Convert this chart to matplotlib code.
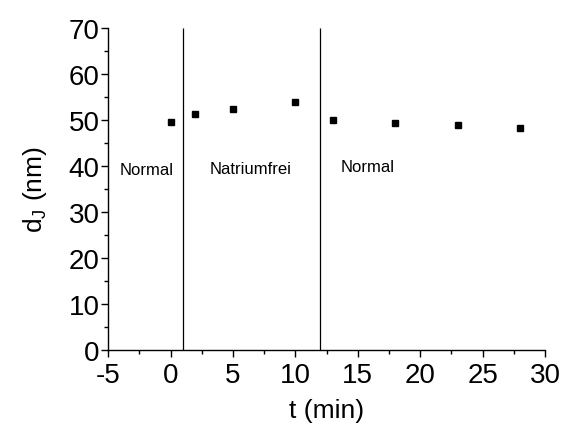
import matplotlib
matplotlib.use("Agg")
import matplotlib.pyplot as plt
from matplotlib.ticker import MultipleLocator

plt.rcParams.update({
    "font.family": ["Liberation Sans", "DejaVu Sans"],
    "mathtext.fontset": "custom",
    "mathtext.rm": "Liberation Sans",
    "mathtext.it": "Liberation Sans",
    "axes.unicode_minus": False,
})

# data
t_min = [0, 2, 5, 10, 13, 18, 23, 28]
d_j = [49.6, 51.4, 52.4, 53.9, 49.9, 49.3, 49.0, 48.3]
switch_times = [1, 12]
phase_labels = ["Normal", "Natriumfrei", "Normal"]
phase_x = [-1.9, 6.4, 15.8]
phase_y = [39.2, 39.5, 40.0]

fig = plt.figure(figsize=(5.63, 4.27), dpi=100)
ax = fig.add_axes([0.192, 0.178, 0.776, 0.754])

ax.plot(t_min, d_j, "s", color="black", markersize=5)
ax.vlines(switch_times, 0, 70, color="black", linewidth=0.9)
for lab, x, y in zip(phase_labels, phase_x, phase_y):
    ax.text(x, y, lab, ha="center", va="center", fontsize=12)

ax.set_xlim(-5, 30)
ax.set_ylim(0, 70)
ax.xaxis.set_major_locator(MultipleLocator(5))
ax.xaxis.set_minor_locator(MultipleLocator(2.5))
ax.yaxis.set_major_locator(MultipleLocator(10))
ax.yaxis.set_minor_locator(MultipleLocator(5))
ax.tick_params(which="major", direction="out", length=5, width=1, labelsize=20, pad=1)
ax.tick_params(axis="x", which="major", pad=4)
ax.tick_params(which="minor", direction="out", length=3, width=1)
for s in ["top", "right"]:
    ax.spines[s].set_visible(False)
for s in ["left", "bottom"]:
    ax.spines[s].set_linewidth(1)

ax.set_xlabel("t (min)", fontsize=19, labelpad=7)
ax.set_ylabel(r"d$_\mathrm{J}$ (nm)", fontsize=19, labelpad=14)

fig.savefig("out.png", dpi=100)
